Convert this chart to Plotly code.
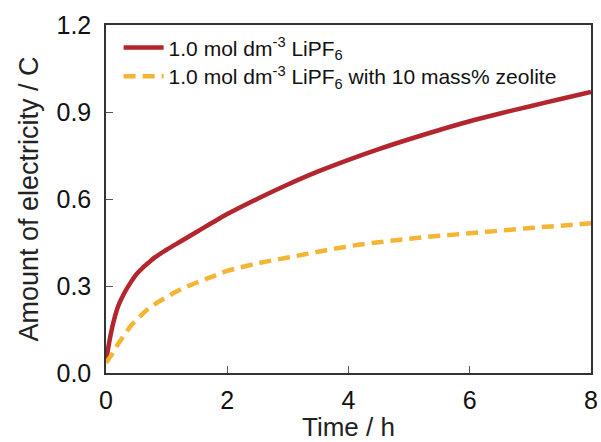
import plotly.graph_objects as go

# time (h) and charge (C)
time_h = [0, 0.1, 0.2, 0.3, 0.4, 0.5, 0.6, 0.7, 0.8, 1.0, 1.25, 1.5, 1.75, 2.0,
          2.5, 3.0, 3.5, 4.0, 4.5, 5.0, 5.5, 6.0, 6.5, 7.0, 7.5, 8.0]
lipf6 = [0.04, 0.155, 0.23, 0.275, 0.31, 0.34, 0.362, 0.38, 0.398, 0.425, 0.456,
         0.487, 0.518, 0.548, 0.601, 0.65, 0.695, 0.735, 0.772, 0.806, 0.838,
         0.868, 0.895, 0.92, 0.945, 0.969]
zeolite = [0.035, 0.065, 0.10, 0.13, 0.16, 0.183, 0.203, 0.222, 0.237, 0.262,
           0.29, 0.312, 0.332, 0.352, 0.378, 0.398, 0.418, 0.437, 0.451, 0.463,
           0.473, 0.482, 0.491, 0.50, 0.508, 0.516]

names = ["1.0 mol dm<sup>-3</sup> LiPF<sub>6</sub>",
         "1.0 mol dm<sup>-3</sup> LiPF<sub>6</sub> with 10 mass% zeolite"]
x_ticks = [0, 2, 4, 6, 8]
y_ticks = [0.0, 0.3, 0.6, 0.9, 1.2]

fig = go.Figure()
fig.add_trace(go.Scatter(x=time_h, y=lipf6, name=names[0], mode="lines",
                         line=dict(color="#B3262E", width=4.5, shape="spline")))
fig.add_trace(go.Scatter(x=time_h, y=zeolite, name=names[1], mode="lines",
                         legend="legend2",
                         line=dict(color="#F4B434", width=4.5, shape="spline",
                                   dash="12px,7px")))

axis_style = dict(showline=True, linecolor="#333333", linewidth=1.5, mirror=True,
                  ticks="inside", ticklen=7, tickwidth=1.2, tickcolor="#555555",
                  showgrid=False, zeroline=False, automargin=False,
                  tickfont=dict(size=25, color="#111111"))

fig.update_xaxes(range=[0, 8], tickvals=x_ticks, title_text="Time / h",
                 title_font=dict(size=26, color="#222222"),
                 title_standoff=4, ticklabelstandoff=4, **axis_style)
fig.update_yaxes(range=[0, 1.2], tickvals=y_ticks, tickformat=".1f",
                 title_text="Amount of electricity / C",
                 title_font=dict(size=27, color="#222222"), title_standoff=10,
                 ticklabelstandoff=8, **axis_style)

# one legend per entry so the row spacing can follow the reference
leg = dict(x=0.026, xanchor="left", yanchor="middle", font=dict(size=21),
           bgcolor="rgba(0,0,0,0)", itemwidth=40)

fig.update_layout(
    width=601, height=442,
    margin=dict(l=106, r=10, t=25, b=69),
    paper_bgcolor="white", plot_bgcolor="white",
    font=dict(family="Liberation Sans, Arial, sans-serif", color="#111111"),
    legend=dict(y=0.934, **leg),
    legend2=dict(y=0.852, **leg),
    showlegend=True,
)

# drop the browser's default body margin so the figure sits at the page origin
fig.write_html("out.html", config={"displayModeBar": False},
               post_script="document.body.style.margin='0px';")
